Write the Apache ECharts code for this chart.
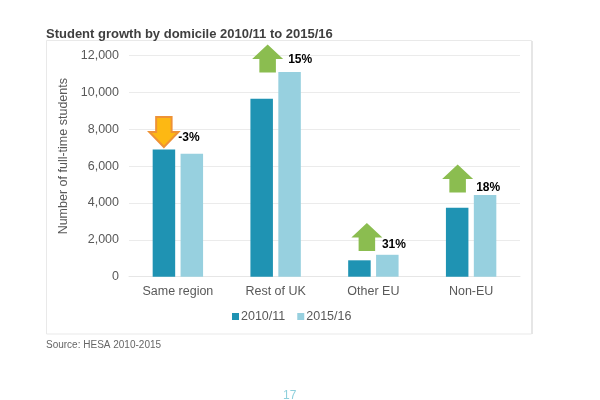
<!DOCTYPE html>
<html><head><meta charset="utf-8">
<style>html,body{margin:0;padding:0;background:#fff}#c{width:600px;height:400px}</style>
<script src="https://cdn.jsdelivr.net/npm/echarts@6/dist/echarts.min.js"></script>
</head><body><div id="c"></div>
<script>
const categories = ['Same region','Rest of UK','Other EU','Non-EU'];
const values2010 = [6910,9660,890,3750];
const values2015 = [6670,11110,1190,4430];
const arrowLevels = [7860,11850,2160,5330];
const changes = ['-3%','15%','31%','18%'];
const yTicks = {min:0,max:12000,interval:2000};
const font = '"Liberation Sans", Arial, sans-serif';
const upPath = 'path://M15,0 L30,14 L23,14 L23,27 L7,27 L7,14 L0,14 Z';
const downPath = 'path://M7,0 L23,0 L23,15 L30,15 L15,30 L0,15 L7,15 Z';
const arrowShift = [-14,-8,-6.5,-13.5];
const labelShift = [[-6,6],[0,1],[-5.5,8],[-2,9]];
const chart = echarts.init(document.getElementById('c'),null,{renderer:'canvas'});
chart.setOption({
  animation:false,
  backgroundColor:'#fff',
  graphic:[
    {type:'rect',z:0,shape:{x:46.5,y:40.5,width:485,height:293.5},style:{fill:'#fff',stroke:'#e9e9e9',lineWidth:1}},
    {type:'line',z:0,shape:{x1:532,y1:41,x2:532,y2:334},style:{stroke:'#e6e6e6',lineWidth:2}},
    {type:'text',z:5,left:46,top:28,style:{text:'Student growth by domicile 2010/11 to 2015/16',font:'bold 13px '+font,fill:'#3f3f3f'}},
    {type:'text',z:5,left:46,top:340,style:{text:'Source: HESA 2010-2015',font:'10px '+font,fill:'#666'}},
    {type:'text',z:5,left:283,top:390,style:{text:'17',font:'12px '+font,fill:'#8fd0dc'}}
  ],
  legend:{
    data:['2010/11','2015/16'],top:305,left:227,itemWidth:7,itemHeight:7,itemGap:12,icon:'rect',
    textStyle:{fontFamily:font,fontSize:12.5,color:'#595959',padding:[0,0,0,-3]}
  },
  grid:{left:129,right:80,top:55.7,height:221,containLabel:false},
  xAxis:{type:'category',data:categories,
    axisLine:{lineStyle:{color:'#e6e6e6',width:1}},axisTick:{show:false},
    axisLabel:{fontFamily:font,fontSize:12.5,color:'#595959',margin:8}},
  yAxis:{type:'value',min:yTicks.min,max:yTicks.max,interval:yTicks.interval,
    name:'Number of full-time students',nameLocation:'middle',nameGap:44,nameRotate:90,
    nameTextStyle:{fontFamily:font,fontSize:12.5,color:'#595959',padding:[0,0,0,20]},
    axisLine:{show:false},axisTick:{show:false},
    splitLine:{lineStyle:{color:'#ebebeb',width:1}},
    axisLabel:{fontFamily:font,fontSize:12.5,color:'#595959',margin:10,
      formatter:v=>v.toLocaleString('en-GB')}},
  series:[
    {name:'2010/11',type:'bar',data:values2010,barWidth:22.5,barGap:'24%',itemStyle:{color:'#1f93b3'}},
    {name:'2015/16',type:'bar',data:values2015,barWidth:22.5,barGap:'24%',itemStyle:{color:'#97d0df'}},
    {name:'change',type:'scatter',z:6,silent:true,
      data:arrowLevels.map((v,i)=>({
        value:[categories[i],v],
        symbol:changes[i].startsWith('-')?downPath:upPath,
        symbolSize:changes[i].startsWith('-')?[29,30]:[31,28],
        symbolOffset:[arrowShift[i],0],
        itemStyle:changes[i].startsWith('-')?{color:'#fdb813',borderColor:'#ee9236',borderWidth:2,opacity:1}:{color:'#8bbd50',opacity:1},
        label:{show:true,formatter:changes[i],position:'right',
          offset:labelShift[i],
          fontFamily:font,fontSize:12,fontWeight:'bold',color:'#000'}
      }))}
  ]
});
</script></body></html>
